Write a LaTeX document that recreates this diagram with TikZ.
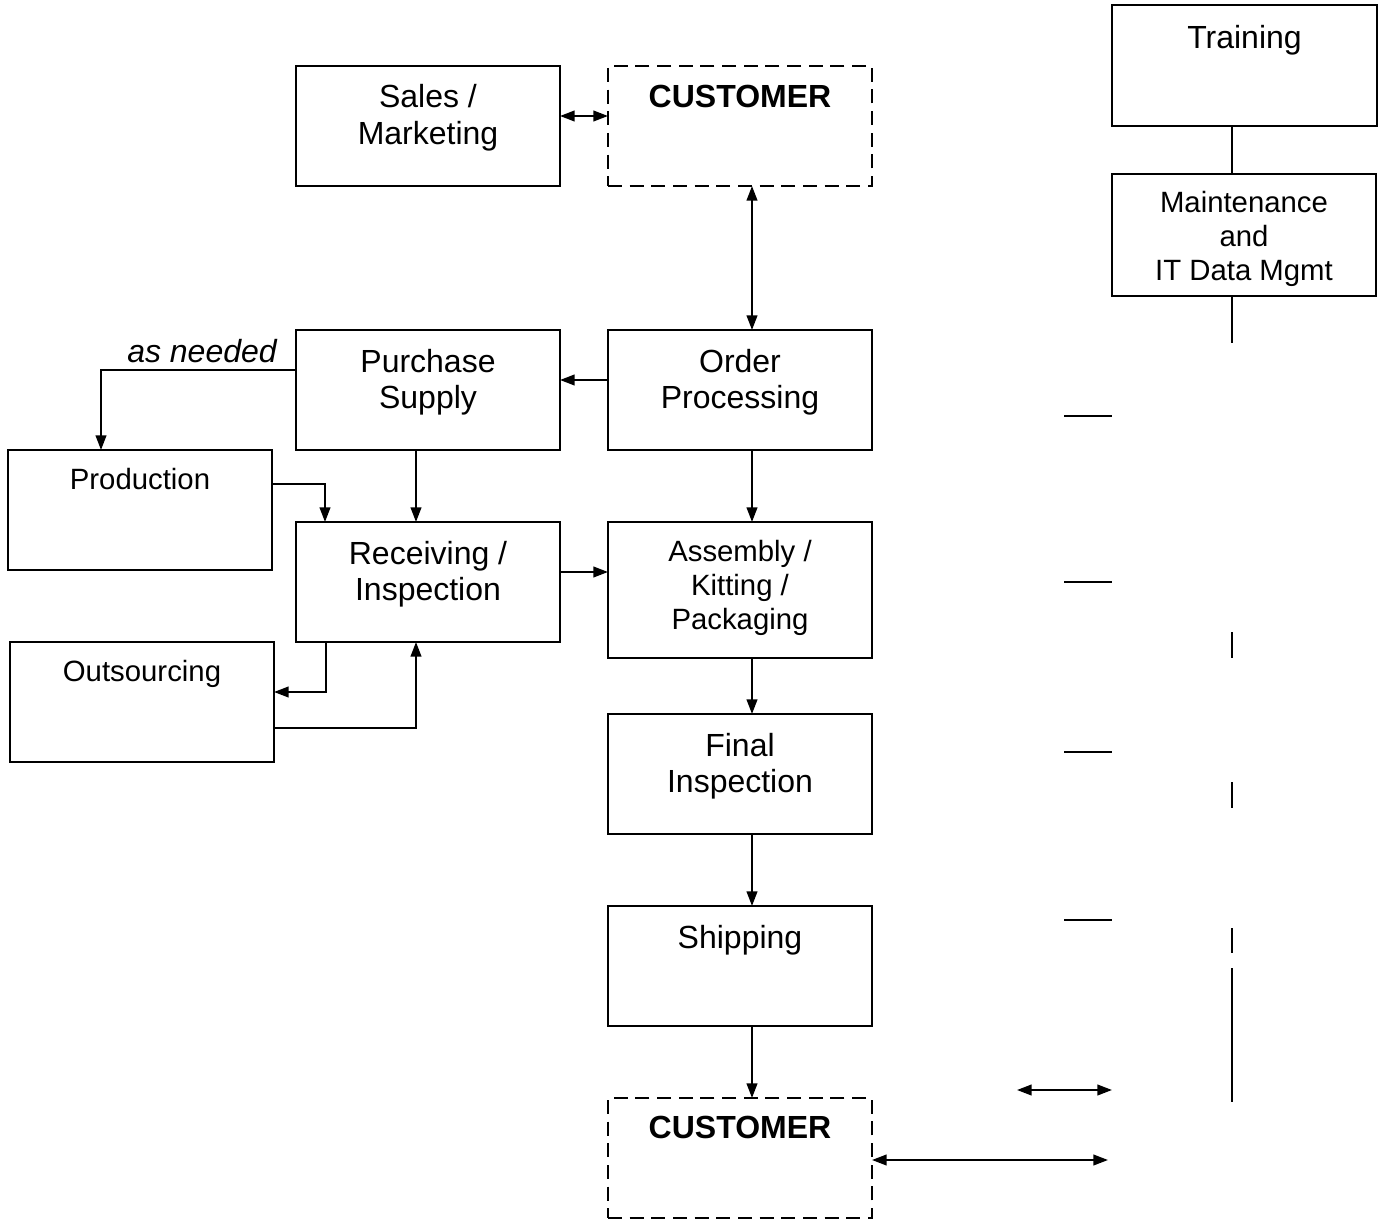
\documentclass[tikz,border=0pt]{standalone}
\usepackage{fontspec}
\setmainfont{Liberation Sans}
\usetikzlibrary{arrows.meta,calc}
\begin{document}
\begin{tikzpicture}[x=0.75pt,y=-0.75pt,
  line width=1.5pt,
  box/.style={draw,rectangle,minimum width=198pt,minimum height=90pt,inner sep=0pt,outer sep=0pt},
  dbox/.style={box,dash pattern=on 10.5pt off 5.75pt},
  txt/.style={anchor=north,align=center,inner sep=0pt,font=\fontsize{24}{27.5}\selectfont},
  stxt/.style={anchor=north,align=center,inner sep=0pt,font=\fontsize{22}{25.5}\selectfont},
  btxt/.style={anchor=north,align=center,inner sep=0pt,font=\fontsize{24}{27.5}\selectfont\bfseries},
  arr/.style={-{Triangle[length=11pt,width=8pt]}},
  dbl/.style={{Triangle[length=11pt,width=8pt]}-{Triangle[length=11pt,width=8pt]}}
]
\useasboundingbox (0,0) rectangle (1379,1220);

% boxes
\node[box] (sales) at (428,126) {};
\node[dbox] (cust1) at (740,126) {};
\node[box,minimum width=198.75pt,minimum height=90.75pt] (train) at (1244.5,65.5) {};
\node[box,minimum height=91.5pt] (maint) at (1244,235) {};
\node[box] (purch) at (428,390) {};
\node[box] (order) at (740,390) {};
\node[box] (prod) at (140,510) {};
\node[box] (recv) at (428,582) {};
\node[box] (outs) at (142,702) {};
\node[box,minimum height=102pt] (assy) at (740,590) {};
\node[box] (final) at (740,774) {};
\node[box] (ship) at (740,966) {};
\node[dbox] (cust2) at (740,1158) {};

% texts
\node[txt] (sales-t) at ([yshift=-13.25pt]sales.north) {Sales /\\Marketing};
\node[btxt] (cust1-t) at ([yshift=-13.5pt]cust1.north) {CUSTOMER};
\node[txt] (train-t) at ([yshift=-14.25pt]train.north) {Training};
\node[stxt] (maint-t) at ([yshift=-12pt]maint.north) {Maintenance\\and\\IT Data Mgmt};
\node[txt] (purch-t) at ([yshift=-13.5pt]purch.north) {Purchase\\Supply};
\node[txt] (order-t) at ([yshift=-13.5pt]order.north) {Order\\Processing};
\node[stxt] (prod-t) at ([yshift=-13.25pt]prod.north) {Production};
\node[txt] (recv-t) at ([yshift=-13.5pt]recv.north) {Receiving /\\Inspection};
\node[stxt] (outs-t) at ([yshift=-12.75pt]outs.north) {Outsourcing};
\node[stxt] (assy-t) at ([yshift=-13pt]assy.north) {Assembly /\\Kitting /\\Packaging};
\node[txt] (final-t) at ([yshift=-13.5pt]final.north) {Final\\Inspection};
\node[txt] (ship-t) at ([yshift=-13.75pt]ship.north) {Shipping};
\node[btxt] (cust2-t) at ([yshift=-13pt]cust2.north) {CUSTOMER};
\node[inner sep=0pt,font=\fontsize{24}{27.5}\selectfont\itshape] (asneeded) at (202,351) {as needed};

% connectors
\draw[dbl] ([yshift=7.5pt]sales.east) -- ([yshift=7.5pt]cust1.west);
\draw[dbl] ([xshift=9pt]cust1.south) -- ([xshift=9pt]order.north);
\draw[arr] ([yshift=7.5pt]order.west) -- ([yshift=7.5pt]purch.east);
\draw[arr] ([yshift=15pt]purch.west) -| ([xshift=-29.25pt]prod.north);
\draw[arr] ([yshift=19.5pt]prod.east) -| ([xshift=-77.25pt]recv.north);
\draw[arr] ([xshift=-9pt]purch.south) -- ([xshift=-9pt]recv.north);
\draw[arr] ([yshift=7.5pt]recv.east) -- ([yshift=13.5pt]assy.west);
\draw[arr] ([xshift=-76.5pt]recv.south) |- ([yshift=7.5pt]outs.east);
\draw[arr] ([yshift=-19.5pt]outs.east) -| ([xshift=-9pt]recv.south);
\draw[arr] ([xshift=9pt]order.south) -- ([xshift=9pt]assy.north);
\draw[arr] ([xshift=9pt]assy.south) -- ([xshift=9pt]final.north);
\draw[arr] ([xshift=9pt]final.south) -- ([xshift=9pt]ship.north);
\draw[arr] ([xshift=9pt]ship.south) -- ([xshift=9pt]cust2.north);

\coordinate (c2r) at (1108,1160);
\draw[dbl] ([yshift=-1.5pt]cust2.east) -- (c2r);
\coordinate (da1) at (1017,1090);
\coordinate (da2) at (1112,1090);
\draw[dbl] (da1) -- (da2);

% right column lines
\coordinate (tm) at ([xshift=-9pt]maint.north);
\draw (tm) -- (tm |- train.south);
\coordinate (mb) at (1232,343);
\draw (tm |- maint.south) -- (mb);

\coordinate (h1a) at (1064,416); \coordinate (h1b) at (1112,416);
\coordinate (h2a) at (1064,582); \coordinate (h2b) at (1112,582);
\coordinate (h3a) at (1064,752); \coordinate (h3b) at (1112,752);
\coordinate (h4a) at (1064,920); \coordinate (h4b) at (1112,920);
\draw (h1a) -- (h1b);
\draw (h2a) -- (h2b);
\draw (h3a) -- (h3b);
\draw (h4a) -- (h4b);

\coordinate (v1a) at (1232,632); \coordinate (v1b) at (1232,658);
\coordinate (v2a) at (1232,782); \coordinate (v2b) at (1232,808);
\coordinate (v3a) at (1232,928); \coordinate (v3b) at (1232,953);
\coordinate (v4a) at (1232,968); \coordinate (v4b) at (1232,1102);
\draw (v1a) -- (v1b);
\draw (v2a) -- (v2b);
\draw (v3a) -- (v3b);
\draw (v4a) -- (v4b);
\end{tikzpicture}
\end{document}
